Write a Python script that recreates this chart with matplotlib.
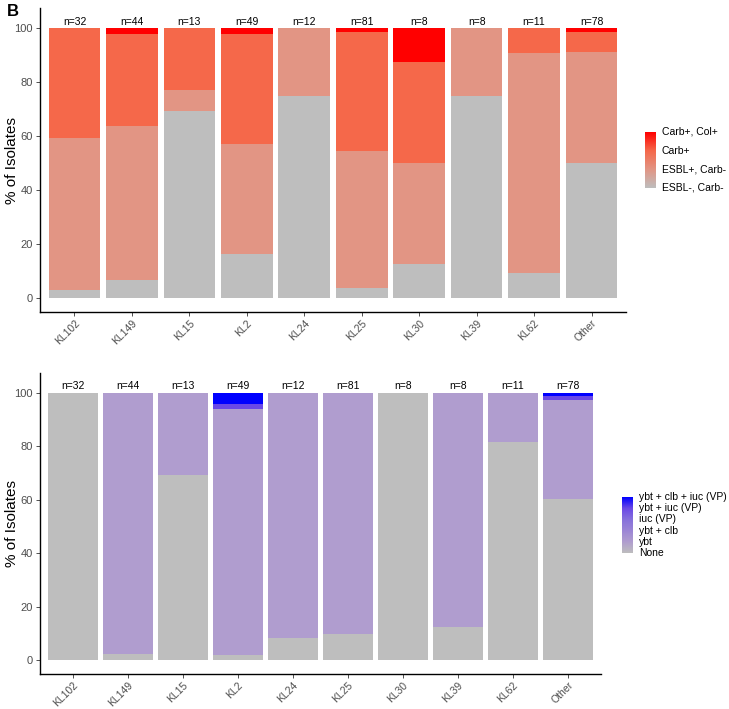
import numpy as np
import matplotlib
matplotlib.use("Agg")
import matplotlib.pyplot as plt
from matplotlib.colors import LinearSegmentedColormap

plt.rcParams['font.family'] = ['Liberation Sans', 'DejaVu Sans']

# capsule locus groups
loci = ["KL102", "KL149", "KL15", "KL2", "KL24", "KL25", "KL30", "KL39", "KL62", "Other"]
n_total = [32, 44, 13, 49, 12, 81, 8, 8, 11, 78]

# panel 1: AMR class counts (bottom -> top)
amr_labels = ["ESBL-, Carb-", "ESBL+, Carb-", "Carb+", "Carb+, Col+"]
amr_esbl_neg = [1, 3, 9, 8, 9, 3, 1, 6, 1, 39]
amr_esbl_pos = [18, 25, 1, 20, 3, 41, 3, 2, 9, 32]
amr_carb = [13, 15, 3, 20, 0, 36, 3, 0, 1, 6]
amr_carb_col = [0, 1, 0, 1, 0, 1, 1, 0, 0, 1]
amr_colors = ["#BEBEBE", "#E29584", "#F5684A", "#FF0000"]

# panel 2: virulence counts (bottom -> top)
vir_labels = ["None", "ybt", "ybt + clb", "iuc (VP)", "ybt + iuc (VP)", "ybt + clb + iuc (VP)"]
vir_none = [32, 1, 9, 1, 1, 8, 8, 1, 9, 47]
vir_ybt = [0, 43, 4, 45, 11, 73, 0, 7, 2, 29]
vir_ybt_clb = [0, 0, 0, 0, 0, 0, 0, 0, 0, 0]
vir_iuc = [0, 0, 0, 0, 0, 0, 0, 0, 0, 0]
vir_ybt_iuc = [0, 0, 0, 1, 0, 0, 0, 0, 0, 1]
vir_all = [0, 0, 0, 2, 0, 0, 0, 0, 0, 1]
vir_colors = ["#BEBEBE", "#B09DCF", "#9C86D6", "#8670DC", "#6A48E6", "#0000FF"]

W, H = 729, 709
fig = plt.figure(figsize=(W / 100, H / 100), dpi=100)


def px_axes(l, t, r, b):
    return fig.add_axes([l / W, 1 - b / H, (r - l) / W, (b - t) / H])


def stacked(ax, series, colors, width_px):
    x = np.arange(1, len(loci) + 1)
    n = np.array(n_total, dtype=float)
    bottom = np.zeros(len(loci))
    for s, c in zip(series, colors):
        pct = np.array(s) / n * 100
        ax.bar(x, pct, bottom=bottom, width=0.9, color=c, linewidth=0)
        bottom += pct
    for xi, ni in zip(x, n_total):
        ax.text(xi, 100.6, f"n={ni}", ha="center", va="bottom", fontsize=7.5, color="black")
    ax.set_xlim(0.4, len(loci) + 0.6)
    ax.set_ylim(-5.2, 107.5)
    ax.set_yticks([0, 20, 40, 60, 80, 100])
    ax.set_xticks(x)
    ax.set_xticklabels(loci, rotation=45, ha="right", rotation_mode="anchor")
    ax.tick_params(axis="both", labelsize=8, labelcolor="#4D4D4D", length=3, width=0.6, color="#333333", pad=2)
    ax.tick_params(axis="x", labelsize=7.5, pad=1.5)
    ax.set_ylabel("% of Isolates", fontsize=11)
    ax.yaxis.set_label_coords(-21 / width_px, 0.5)
    for sp in ["top", "right"]:
        ax.spines[sp].set_visible(False)
    for sp in ["left", "bottom"]:
        ax.spines[sp].set_linewidth(1.0)


def gradient_legend(l, t, r, b, colors, labels, text_x, fs):
    cax = px_axes(l, t, r, b)
    cmap = LinearSegmentedColormap.from_list("g", colors)
    grad = np.linspace(0, 1, 256).reshape(-1, 1)
    cax.imshow(grad, aspect="auto", cmap=cmap, origin="lower", extent=[0, 1, 0, 1])
    cax.set_axis_off()
    k = len(labels)
    for i, lab in enumerate(labels):
        y = t + (b - t) * (1 - i / (k - 1))
        fig.text(text_x / W, 1 - y / H, lab, ha="left", va="center", fontsize=fs)


ax1 = px_axes(40, 8, 626, 312)
stacked(ax1, [amr_esbl_neg, amr_esbl_pos, amr_carb, amr_carb_col], amr_colors, 586)
gradient_legend(645, 132, 656, 188, amr_colors, amr_labels, 662, 7.5)

ax2 = px_axes(40, 373, 601, 674)
stacked(ax2, [vir_none, vir_ybt, vir_ybt_clb, vir_iuc, vir_ybt_iuc, vir_all], vir_colors, 561)
gradient_legend(622, 497, 633, 553, vir_colors, vir_labels, 639, 7.5)

fig.text(7 / W, 1 - 11 / H, "B", fontsize=12, fontweight="bold", ha="left", va="center")

fig.savefig("out.png", dpi=100)
